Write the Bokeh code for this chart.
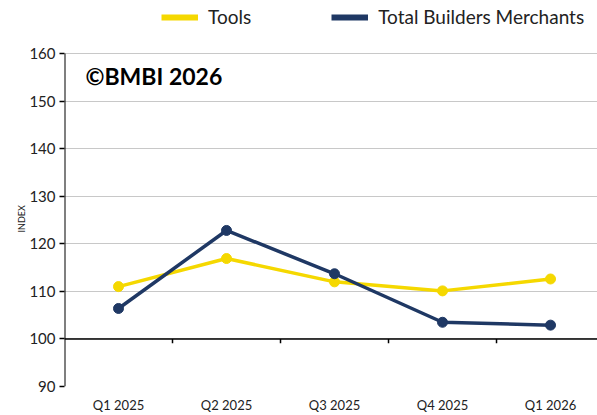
from bokeh.plotting import figure
from bokeh.models import (Legend, LegendItem, Label, Span, FixedTicker, Range1d, Title)
from bokeh.embed import file_html
from bokeh.resources import INLINE

quarters = ["Q1 2025", "Q2 2025", "Q3 2025", "Q4 2025", "Q1 2026"]
tools = [111.0, 116.9, 112.0, 110.1, 112.6]
total_bm = [106.4, 122.8, 113.7, 103.5, 102.9]
y_ticks = [90, 100, 110, 120, 130, 140, 150, 160]

YELLOW = "#F5D800"
NAVY = "#1F3864"
FONT = "Lato"

xs = list(range(len(quarters)))
y_min, y_max = y_ticks[0], y_ticks[-1]
# headroom above the top tick holds the legend
y_top = y_max + 53 * (y_max - y_min) / 333

p = figure(width=597, height=415, output_backend="svg", toolbar_location=None,
           x_range=Range1d(-0.5, 4.435), y_range=Range1d(y_min, y_top),
           min_border_left=64, min_border_right=0, min_border_top=0, min_border_bottom=29)
p.outline_line_color = None
p.background_fill_color = "white"
p.border_fill_color = "white"

p.xgrid.visible = False
p.ygrid.ticker = FixedTicker(ticks=y_ticks)
p.ygrid.grid_line_color = "#c8c8c8"
p.ygrid.grid_line_width = 1

p.yaxis.ticker = FixedTicker(ticks=y_ticks)
p.yaxis.axis_line_color = None
p.yaxis.major_tick_line_color = "black"
p.yaxis.major_tick_line_width = 1.5
p.yaxis.major_tick_out = 5
p.yaxis.major_tick_in = 0
p.yaxis.minor_tick_line_color = None
p.yaxis.major_label_text_font = FONT
p.yaxis.major_label_text_font_size = "15px"
p.yaxis.major_label_text_color = "#222222"
p.yaxis.major_label_standoff = 4

p.add_layout(Title(text="INDEX", align="left", offset=154, text_font=FONT,
                   text_font_size="9px", text_font_style="normal", text_color="#222222",
                   standoff=0), "left")

# y axis line from lowest to highest tick
p.segment(x0=[-0.5], y0=[y_min], x1=[-0.5], y1=[y_max], line_color="black", line_width=2)

p.xaxis.ticker = FixedTicker(ticks=xs)
p.xaxis.major_label_overrides = {i: q for i, q in enumerate(quarters)}
p.xaxis.axis_line_color = None
p.xaxis.major_tick_line_color = None
p.xaxis.minor_tick_line_color = None
p.xaxis.major_label_text_font = FONT
p.xaxis.major_label_text_font_size = "13px"
p.xaxis.major_label_text_color = "#222222"
p.xaxis.major_label_standoff = 4

# category axis crossing at 100
p.add_layout(Span(location=100, dimension="width", line_color="black", line_width=1.5))
tick_x = [i + 0.5 for i in xs[:-1]]
p.segment(x0=tick_x, y0=[100] * len(tick_x), x1=tick_x, y1=[99.1] * len(tick_x),
          line_color="black", line_width=1.5)

p.line(xs, tools, line_color=YELLOW, line_width=3.5)
p.scatter(xs, tools, size=10, fill_color=YELLOW, line_color=YELLOW)
p.line(xs, total_bm, line_color=NAVY, line_width=3.5)
p.scatter(xs, total_bm, size=10, fill_color=NAVY, line_color=NAVY)

# legend keys drawn thicker than the series lines (single point: draws nothing in the plot)
k_tools = p.line(xs[:1], tools[:1], line_color=YELLOW, line_width=6)
k_bm = p.line(xs[:1], total_bm[:1], line_color=NAVY, line_width=6)

legend = Legend(items=[LegendItem(label="Tools", renderers=[k_tools]),
                       LegendItem(label="Total Builders Merchants", renderers=[k_bm])],
                orientation="horizontal", location=(97, 358))
legend.label_text_font = FONT
legend.label_text_font_size = "19px"
legend.label_text_color = "#222222"
legend.glyph_width = 37
legend.glyph_height = 20
legend.label_standoff = 10
legend.spacing = 80
legend.padding = 2
legend.margin = 0
legend.border_line_color = None
legend.background_fill_alpha = 0
p.add_layout(legend)

p.add_layout(Label(x=21, y=311, x_units="screen", y_units="screen", text="©BMBI 2026",
                   text_font=FONT, text_font_size="23px", text_font_style="bold",
                   text_color="black", text_baseline="middle"))

open("out.html", "w").write(file_html(p, INLINE))
